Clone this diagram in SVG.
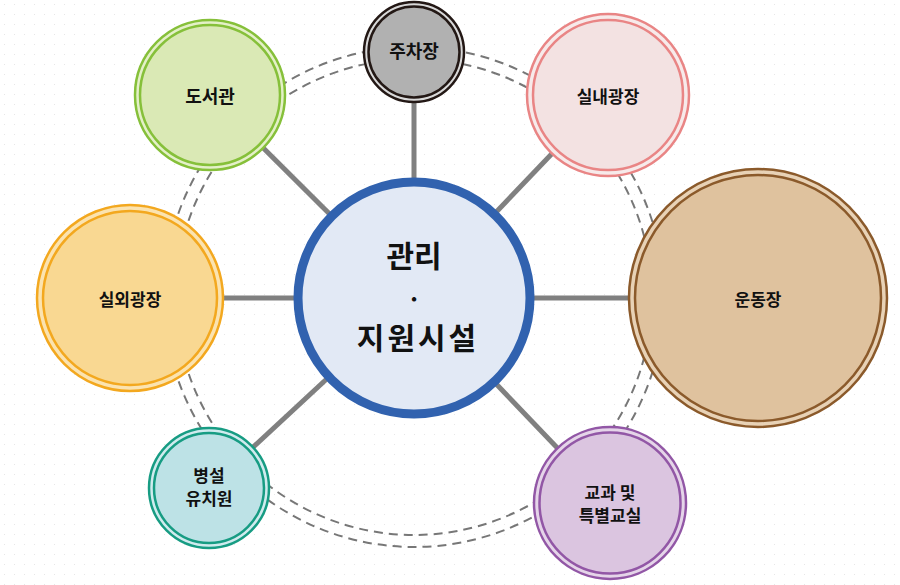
<svg xmlns="http://www.w3.org/2000/svg" width="900" height="585" viewBox="0 0 900 585">
<defs>
<pattern id="dots" width="10" height="10" patternUnits="userSpaceOnUse">
<rect x="4" y="4" width="1" height="1" fill="#e6e6e6"/>
</pattern>
<style>
text{font-family:"Noto Sans CJK KR","Noto Sans",sans-serif;font-weight:bold;fill:#111;text-anchor:middle;dominant-baseline:central}
.lbl{font-size:17px}
.ring{stroke-width:2.5}
.conn line{stroke:#808080;stroke-width:5}
.orbit circle{fill:none;stroke:#777;stroke-width:2;stroke-dasharray:9 6}
</style>
</defs>
<rect width="900" height="585" fill="#fff"/>
<rect width="900" height="585" fill="url(#dots)"/>
<g class="orbit">
<circle cx="414" cy="297" r="250"/>
<circle cx="414" cy="297" r="238"/>
</g>
<g class="conn">
<line x1="414" y1="298" x2="414" y2="52"/>
<line x1="414" y1="298" x2="210" y2="95"/>
<line x1="414" y1="298" x2="608" y2="95"/>
<line x1="414" y1="298" x2="130" y2="298"/>
<line x1="414" y1="298" x2="758" y2="298"/>
<line x1="414" y1="298" x2="209" y2="488"/>
<line x1="414" y1="298" x2="610" y2="503"/>
</g>
<g id="center">
<circle cx="414" cy="298" r="116" fill="#E2E9F5" stroke="#3162AF" stroke-width="9"/>
<text x="414" y="254" style="font-size:30px">관리</text>
<text x="414" y="297" style="font-size:24px">·</text>
<text x="418" y="336" style="font-size:30px;letter-spacing:3px">지원시설</text>
</g>
<g id="parking">
<circle cx="414" cy="52" r="50" fill="#d9d9d9" stroke="#231815" class="ring"/>
<circle cx="414" cy="52" r="45.5" fill="#B1B1B1" stroke="#231815" class="ring"/>
<text x="414" y="50" class="lbl" style="font-size:18px">주차장</text>
</g>
<g id="library">
<circle cx="210" cy="95" r="75" fill="#E4F0C8" stroke="#86C03A" class="ring"/>
<circle cx="210" cy="95" r="70" fill="#DAE9B5" stroke="#86C03A" class="ring"/>
<text x="210" y="95" class="lbl" style="font-size:18px">도서관</text>
</g>
<g id="indoor">
<circle cx="608" cy="95" r="81" fill="#F7EAEA" stroke="#E98585" class="ring"/>
<circle cx="608" cy="95" r="75" fill="#F3E2E2" stroke="#E98585" class="ring"/>
<text x="608" y="95" class="lbl">실내광장</text>
</g>
<g id="outdoor">
<circle cx="130" cy="298" r="93" fill="#FBE3B0" stroke="#F3A81F" class="ring"/>
<circle cx="130" cy="298" r="87" fill="#F9D892" stroke="#F3A81F" class="ring"/>
<text x="130" y="298" class="lbl">실외광장</text>
</g>
<g id="sports">
<circle cx="758" cy="298" r="129" fill="#E8D2B6" stroke="#8B5A2B" class="ring"/>
<circle cx="758" cy="298" r="123" fill="#DFC29E" stroke="#8B5A2B" class="ring"/>
<text x="758" y="298" class="lbl">운동장</text>
</g>
<g id="kinder">
<circle cx="209" cy="488" r="60" fill="#D0EBEE" stroke="#179C83" class="ring"/>
<circle cx="209" cy="488" r="55" fill="#BDE2E6" stroke="#179C83" class="ring"/>
<text x="209" y="474" class="lbl">병설</text>
<text x="209" y="497" class="lbl">유치원</text>
</g>
<g id="classroom">
<circle cx="610" cy="503" r="76" fill="#E5D5E9" stroke="#9257A6" class="ring"/>
<circle cx="610" cy="503" r="70.5" fill="#DBC5E0" stroke="#9257A6" class="ring"/>
<text x="610" y="491" class="lbl">교과 및</text>
<text x="610" y="514" class="lbl">특별교실</text>
</g>
</svg>
